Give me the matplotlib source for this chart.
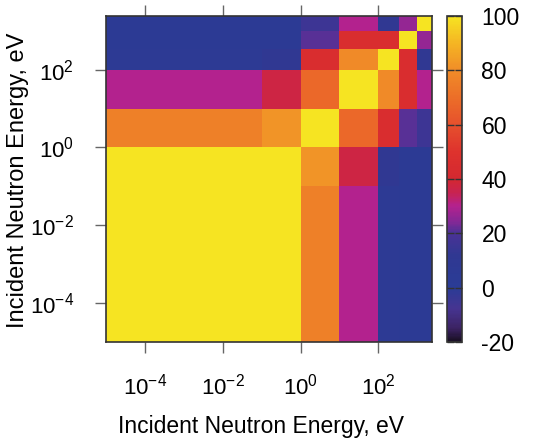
import numpy as np
import matplotlib
matplotlib.use("Agg")
import matplotlib.pyplot as plt
from matplotlib.colors import LinearSegmentedColormap

plt.rcParams["font.family"] = ["Liberation Sans", "DejaVu Sans"]
plt.rcParams["mathtext.default"] = "regular"
plt.rcParams["axes.unicode_minus"] = False

# group boundaries, eV
energy_edges = [1e-5, 1e-4, 1e-3, 1e-2, 1e-1, 1.0, 10.0, 100.0, 340.0, 1000.0, 2400.0]

# correlation matrix (%), row = y group (low -> high energy), col = x group
corr_g0 = [100, 100, 100, 100, 100, 76, 30, 6, 5, 5]
corr_g1 = [100, 100, 100, 100, 100, 76, 30, 6, 5, 5]
corr_g2 = [100, 100, 100, 100, 100, 76, 30, 6, 5, 5]
corr_g3 = [100, 100, 100, 100, 100, 76, 30, 6, 5, 5]
corr_g4 = [100, 100, 100, 100, 100, 82, 37, 12, 5, 5]
corr_g5 = [76, 76, 76, 76, 82, 100, 68, 45, 21, 16]
corr_g6 = [30, 30, 30, 30, 37, 68, 100, 79, 45, 30]
corr_g7 = [6, 6, 6, 6, 12, 45, 79, 100, 45, 12]
corr_g8 = [5, 5, 5, 5, 5, 21, 45, 45, 100, 26]
corr_g9 = [5, 5, 5, 5, 5, 16, 30, 12, 26, 100]

x_ticks = [1e-4, 1e-2, 1e0, 1e2]
x_tick_labels = ["10$^{-4}$", "10$^{-2}$", "10$^{0}$", "10$^{2}$"]
cbar_ticks = [-20, 0, 20, 40, 60, 80, 100]

corr = np.array([corr_g0, corr_g1, corr_g2, corr_g3, corr_g4,
                 corr_g5, corr_g6, corr_g7, corr_g8, corr_g9])

# palette anchors (value, rgb)
anchors = [
    (-20, (25, 15, 35)),
    (-15, (60, 35, 100)),
    (-8, (70, 52, 145)),
    (0, (42, 60, 150)),
    (12, (48, 56, 146)),
    (20, (75, 50, 150)),
    (24, (130, 40, 150)),
    (30, (180, 34, 142)),
    (35, (200, 35, 80)),
    (40, (212, 40, 48)),
    (50, (222, 50, 45)),
    (60, (230, 80, 45)),
    (70, (236, 110, 40)),
    (80, (240, 140, 40)),
    (90, (245, 180, 35)),
    (100, (246, 228, 34)),
]
cmap = LinearSegmentedColormap.from_list(
    "corr", [((v + 20) / 120, tuple(c / 255 for c in rgb)) for v, rgb in anchors])

fig = plt.figure(figsize=(5.39, 4.38), dpi=100)
ax = fig.add_axes([0.1967, 0.2192, 0.6048, 0.7443])
cax = fig.add_axes([0.8293, 0.2192, 0.0278, 0.7443])

mesh = ax.pcolormesh(energy_edges, energy_edges, corr, cmap=cmap,
                     vmin=-20, vmax=100, shading="flat")
ax.set_xscale("log")
ax.set_yscale("log")
ax.set_xlim(energy_edges[0], energy_edges[-1])
ax.set_ylim(energy_edges[0], energy_edges[-1])

ax.set_xticks(x_ticks)
ax.set_xticklabels(x_tick_labels)
ax.set_yticks(x_ticks)
ax.set_yticklabels(x_tick_labels)
ax.minorticks_off()
ax.tick_params(direction="out", length=8, width=1, color="#666666",
               top=True, right=True, labelsize=16, pad=15)
for s in ax.spines.values():
    s.set_color("#333333")
    s.set_linewidth(1.2)

ax.set_xlabel("Incident Neutron Energy, eV", fontsize=16.5)
ax.set_ylabel("Incident Neutron Energy, eV", fontsize=17)
ax.xaxis.set_label_coords(0.474, -0.224)
ax.yaxis.set_label_coords(-0.235, 0.495)

cb = fig.colorbar(mesh, cax=cax, ticks=cbar_ticks)
cb.outline.set_edgecolor("#333333")
cb.outline.set_linewidth(1.2)
cax.tick_params(direction="in", length=5, width=1, color="#333333",
                left=True, right=True, labelsize=16.5, pad=14)

fig.savefig("out.png", dpi=100)
